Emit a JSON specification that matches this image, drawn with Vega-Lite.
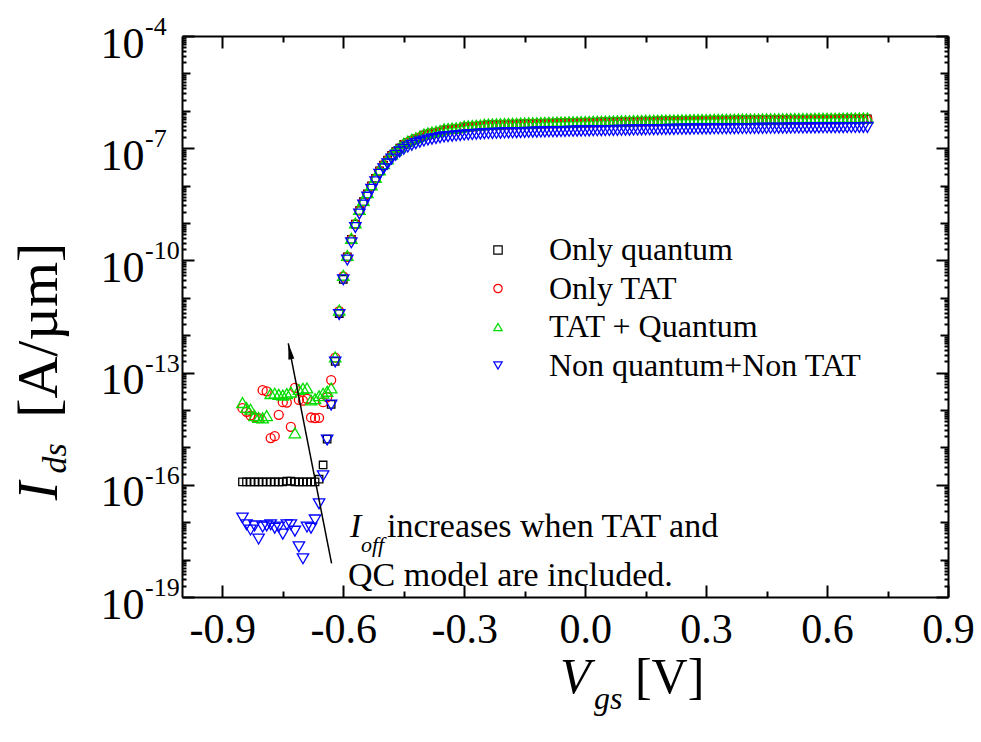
{
  "$schema": "https://vega.github.io/schema/vega-lite/v6.json",
  "width": 766,
  "height": 561,
  "autosize": {"type": "none"},
  "padding": {"left": 182, "top": 36, "right": 33, "bottom": 145},
  "background": "white",
  "config": {
    "view": {"stroke": null},
    "font": "Liberation Serif",
    "axis": {"domainColor": "#000", "domainWidth": 2, "tickColor": "#000", "tickWidth": 2, "grid": false, "labelFont": "Liberation Serif", "labelColor": "#000", "labelOverlap": false, "labelBound": false, "labelFlush": false},
    "legend": {"labelFont": "Liberation Serif", "labelFontSize": 32, "labelColor": "#000", "symbolSize": 70, "symbolStrokeWidth": 1.2, "rowPadding": 6.5, "labelOffset": 35, "padding": 0, "labelLimit": 600}
  },
  "data": {"values": [
    {"v": -0.85, "q": 1.2e-16, "t": 1.12e-14, "tq": 1.58e-14, "n": 1.29e-17},
    {"v": -0.84, "q": 1.2e-16, "t": 8.91e-15, "tq": 1.17e-14, "n": 8.51e-18},
    {"v": -0.83, "q": 1.2e-16, "t": 7.08e-15, "tq": 1.05e-14, "n": 6.17e-18},
    {"v": -0.82, "q": 1.2e-16, "t": 6.46e-15, "tq": 7.08e-15, "n": 7.94e-18},
    {"v": -0.81, "q": 1.2e-16, "t": 6.03e-15, "tq": 6.31e-15, "n": 3.55e-18},
    {"v": -0.80, "q": 1.2e-16, "t": 3.39e-14, "tq": 6.17e-15, "n": 7.41e-18},
    {"v": -0.79, "q": 1.2e-16, "t": 3.16e-14, "tq": 7.08e-15, "n": 7.94e-18},
    {"v": -0.78, "q": 1.2e-16, "t": 1.78e-15, "tq": 2.75e-14, "n": 8.51e-18},
    {"v": -0.77, "q": 1.2e-16, "t": 2.00e-15, "tq": 2.82e-14, "n": 6.92e-18},
    {"v": -0.76, "q": 1.2e-16, "t": 7.41e-15, "tq": 2.63e-14, "n": 7.41e-18},
    {"v": -0.75, "q": 1.2e-16, "t": 1.62e-14, "tq": 2.51e-14, "n": 4.79e-18},
    {"v": -0.74, "q": 1.25e-16, "t": 1.58e-14, "tq": 2.75e-14, "n": 8.51e-18},
    {"v": -0.73, "q": 1.25e-16, "t": 3.55e-15, "tq": 3.02e-14, "n": 8.51e-18},
    {"v": -0.72, "q": 1.2e-16, "t": 3.89e-14, "tq": 2.45e-15, "n": 5.75e-18},
    {"v": -0.71, "q": 1.2e-16, "t": 1.86e-14, "tq": 3.55e-14, "n": 2.19e-18},
    {"v": -0.70, "q": 1.2e-16, "t": 1.78e-14, "tq": 3.80e-14, "n": 1.05e-18},
    {"v": -0.69, "q": 1.2e-16, "t": 2.00e-14, "tq": 3.89e-14, "n": 7.41e-18},
    {"v": -0.68, "q": 1.2e-16, "t": 6.31e-15, "tq": 1.86e-14, "n": 6.92e-18},
    {"v": -0.67, "q": 1.2e-16, "t": 6.03e-15, "tq": 2.00e-14, "n": 1.15e-17},
    {"v": -0.66, "q": 1.41e-16, "t": 6.17e-15, "tq": 2.40e-14, "n": 3.09e-17},
    {"v": -0.65, "q": 3.39e-16, "t": 1.62e-14, "tq": 2.82e-14, "n": 1.74e-16},
    {"v": -0.64, "q": 1.66e-15, "t": 2.20e-14, "tq": 3.16e-14, "n": 1.58e-15},
    {"v": -0.63, "q": 1.41e-14, "t": 6.31e-14, "tq": 3.89e-14, "n": 1.35e-14},
    {"v": -0.62, "q": 2.00e-13, "t": 2.51e-13, "tq": 2.63e-13, "n": 1.91e-13},
    {"v": -0.61, "q": 3.8e-12, "t": 4.37e-12, "tq": 4.69e-12, "n": 3.55e-12},
    {"v": -0.60, "q": 3.1e-11, "t": 3.71e-11, "tq": 3.99e-11, "n": 3.02e-11},
    {"v": -0.59, "q": 1.25e-10, "t": 1.25e-10, "tq": 1.35e-10, "n": 1.02e-10},
    {"v": -0.58, "q": 3.63e-10, "t": 3.63e-10, "tq": 3.89e-10, "n": 2.95e-10},
    {"v": -0.57, "q": 9.34e-10, "t": 9.34e-10, "tq": 1.00e-9, "n": 7.59e-10},
    {"v": -0.56, "q": 2.14e-9, "t": 2.14e-9, "tq": 2.30e-9, "n": 1.74e-9},
    {"v": -0.55, "q": 3.71e-9, "t": 3.71e-9, "tq": 3.99e-9, "n": 3.02e-9},
    {"v": -0.54, "q": 6.03e-9, "t": 6.03e-9, "tq": 6.47e-9, "n": 4.90e-9},
    {"v": -0.53, "q": 9.77e-9, "t": 9.77e-9, "tq": 1.05e-8, "n": 7.94e-9},
    {"v": -0.52, "q": 1.55e-8, "t": 1.55e-8, "tq": 1.66e-8, "n": 1.26e-8},
    {"v": -0.51, "q": 2.46e-8, "t": 2.46e-8, "tq": 2.64e-8, "n": 2.00e-8},
    {"v": -0.50, "q": 3.55e-8, "t": 3.55e-8, "tq": 3.84e-8, "n": 2.82e-8},
    {"v": -0.49, "q": 4.79e-8, "t": 4.79e-8, "tq": 5.17e-8, "n": 3.80e-8},
    {"v": -0.48, "q": 6.46e-8, "t": 6.46e-8, "tq": 6.98e-8, "n": 5.13e-8},
    {"v": -0.47, "q": 8.14e-8, "t": 8.14e-8, "tq": 8.79e-8, "n": 6.46e-8},
    {"v": -0.46, "q": 1.00e-7, "t": 1.00e-7, "tq": 1.08e-7, "n": 7.94e-8},
    {"v": -0.45, "q": 1.26e-7, "t": 1.26e-7, "tq": 1.35e-7, "n": 9.33e-8},
    {"v": -0.44, "q": 1.44e-7, "t": 1.44e-7, "tq": 1.55e-7, "n": 1.07e-7},
    {"v": -0.43, "q": 1.62e-7, "t": 1.62e-7, "tq": 1.74e-7, "n": 1.20e-7},
    {"v": -0.42, "q": 1.78e-7, "t": 1.78e-7, "tq": 1.91e-7, "n": 1.32e-7},
    {"v": -0.41, "q": 1.96e-7, "t": 1.96e-7, "tq": 2.10e-7, "n": 1.45e-7},
    {"v": -0.40, "q": 2.23e-7, "t": 2.23e-7, "tq": 2.40e-7, "n": 1.55e-7},
    {"v": -0.39, "q": 2.39e-7, "t": 2.39e-7, "tq": 2.57e-7, "n": 1.66e-7},
    {"v": -0.38, "q": 2.51e-7, "t": 2.51e-7, "tq": 2.70e-7, "n": 1.74e-7},
    {"v": -0.37, "q": 2.62e-7, "t": 2.62e-7, "tq": 2.82e-7, "n": 1.82e-7},
    {"v": -0.36, "q": 2.75e-7, "t": 2.75e-7, "tq": 2.96e-7, "n": 1.91e-7},
    {"v": -0.35, "q": 3.06e-7, "t": 3.06e-7, "tq": 3.30e-7, "n": 2.00e-7},
    {"v": -0.34, "q": 3.12e-7, "t": 3.12e-7, "tq": 3.37e-7, "n": 2.04e-7},
    {"v": -0.33, "q": 3.20e-7, "t": 3.20e-7, "tq": 3.45e-7, "n": 2.09e-7},
    {"v": -0.32, "q": 3.27e-7, "t": 3.27e-7, "tq": 3.53e-7, "n": 2.14e-7},
    {"v": -0.31, "q": 3.35e-7, "t": 3.35e-7, "tq": 3.61e-7, "n": 2.19e-7},
    {"v": -0.30, "q": 3.63e-7, "t": 3.63e-7, "tq": 3.90e-7, "n": 2.24e-7},
    {"v": -0.29, "q": 3.71e-7, "t": 3.71e-7, "tq": 3.98e-7, "n": 2.29e-7},
    {"v": -0.28, "q": 3.76e-7, "t": 3.76e-7, "tq": 4.04e-7, "n": 2.32e-7},
    {"v": -0.27, "q": 3.82e-7, "t": 3.82e-7, "tq": 4.11e-7, "n": 2.36e-7},
    {"v": -0.26, "q": 3.89e-7, "t": 3.89e-7, "tq": 4.18e-7, "n": 2.40e-7},
    {"v": -0.25, "q": 4.10e-7, "t": 4.10e-7, "tq": 4.39e-7, "n": 2.44e-7},
    {"v": -0.24, "q": 4.13e-7, "t": 4.13e-7, "tq": 4.43e-7, "n": 2.46e-7},
    {"v": -0.23, "q": 4.17e-7, "t": 4.17e-7, "tq": 4.46e-7, "n": 2.48e-7},
    {"v": -0.22, "q": 4.20e-7, "t": 4.20e-7, "tq": 4.50e-7, "n": 2.50e-7},
    {"v": -0.21, "q": 4.23e-7, "t": 4.23e-7, "tq": 4.54e-7, "n": 2.52e-7},
    {"v": -0.20, "q": 4.27e-7, "t": 4.27e-7, "tq": 4.57e-7, "n": 2.54e-7},
    {"v": -0.19, "q": 4.30e-7, "t": 4.30e-7, "tq": 4.61e-7, "n": 2.56e-7},
    {"v": -0.18, "q": 4.33e-7, "t": 4.33e-7, "tq": 4.64e-7, "n": 2.58e-7},
    {"v": -0.17, "q": 4.35e-7, "t": 4.35e-7, "tq": 4.66e-7, "n": 2.59e-7},
    {"v": -0.16, "q": 4.38e-7, "t": 4.38e-7, "tq": 4.70e-7, "n": 2.61e-7},
    {"v": -0.15, "q": 4.42e-7, "t": 4.42e-7, "tq": 4.73e-7, "n": 2.63e-7},
    {"v": -0.14, "q": 4.45e-7, "t": 4.45e-7, "tq": 4.77e-7, "n": 2.65e-7},
    {"v": -0.13, "q": 4.49e-7, "t": 4.49e-7, "tq": 4.81e-7, "n": 2.67e-7},
    {"v": -0.12, "q": 4.50e-7, "t": 4.50e-7, "tq": 4.82e-7, "n": 2.68e-7},
    {"v": -0.11, "q": 4.54e-7, "t": 4.54e-7, "tq": 4.86e-7, "n": 2.70e-7},
    {"v": -0.10, "q": 4.57e-7, "t": 4.57e-7, "tq": 4.90e-7, "n": 2.72e-7},
    {"v": -0.09, "q": 4.60e-7, "t": 4.60e-7, "tq": 4.93e-7, "n": 2.74e-7},
    {"v": -0.08, "q": 4.62e-7, "t": 4.62e-7, "tq": 4.95e-7, "n": 2.75e-7},
    {"v": -0.07, "q": 4.65e-7, "t": 4.65e-7, "tq": 4.99e-7, "n": 2.77e-7},
    {"v": -0.06, "q": 4.67e-7, "t": 4.67e-7, "tq": 5.00e-7, "n": 2.78e-7},
    {"v": -0.05, "q": 4.70e-7, "t": 4.70e-7, "tq": 5.04e-7, "n": 2.80e-7},
    {"v": -0.04, "q": 4.74e-7, "t": 4.74e-7, "tq": 5.08e-7, "n": 2.82e-7},
    {"v": -0.03, "q": 4.75e-7, "t": 4.75e-7, "tq": 5.09e-7, "n": 2.83e-7},
    {"v": -0.02, "q": 4.79e-7, "t": 4.79e-7, "tq": 5.13e-7, "n": 2.85e-7},
    {"v": -0.01, "q": 4.80e-7, "t": 4.80e-7, "tq": 5.15e-7, "n": 2.86e-7},
    {"v": 0.00, "q": 4.84e-7, "t": 4.84e-7, "tq": 5.18e-7, "n": 2.88e-7},
    {"v": 0.01, "q": 4.86e-7, "t": 4.86e-7, "tq": 5.20e-7, "n": 2.89e-7},
    {"v": 0.02, "q": 4.89e-7, "t": 4.89e-7, "tq": 5.24e-7, "n": 2.91e-7},
    {"v": 0.03, "q": 4.91e-7, "t": 4.91e-7, "tq": 5.26e-7, "n": 2.92e-7},
    {"v": 0.04, "q": 4.94e-7, "t": 4.94e-7, "tq": 5.29e-7, "n": 2.94e-7},
    {"v": 0.05, "q": 4.96e-7, "t": 4.96e-7, "tq": 5.31e-7, "n": 2.95e-7},
    {"v": 0.06, "q": 4.97e-7, "t": 4.97e-7, "tq": 5.33e-7, "n": 2.96e-7},
    {"v": 0.07, "q": 5.01e-7, "t": 5.01e-7, "tq": 5.36e-7, "n": 2.98e-7},
    {"v": 0.08, "q": 5.02e-7, "t": 5.02e-7, "tq": 5.38e-7, "n": 2.99e-7},
    {"v": 0.09, "q": 5.06e-7, "t": 5.06e-7, "tq": 5.42e-7, "n": 3.01e-7},
    {"v": 0.10, "q": 5.07e-7, "t": 5.07e-7, "tq": 5.44e-7, "n": 3.02e-7},
    {"v": 0.11, "q": 5.09e-7, "t": 5.09e-7, "tq": 5.45e-7, "n": 3.03e-7},
    {"v": 0.12, "q": 5.12e-7, "t": 5.12e-7, "tq": 5.49e-7, "n": 3.05e-7},
    {"v": 0.13, "q": 5.14e-7, "t": 5.14e-7, "tq": 5.51e-7, "n": 3.06e-7},
    {"v": 0.14, "q": 5.17e-7, "t": 5.17e-7, "tq": 5.54e-7, "n": 3.08e-7},
    {"v": 0.15, "q": 5.19e-7, "t": 5.19e-7, "tq": 5.56e-7, "n": 3.09e-7},
    {"v": 0.16, "q": 5.21e-7, "t": 5.21e-7, "tq": 5.58e-7, "n": 3.10e-7},
    {"v": 0.17, "q": 5.24e-7, "t": 5.24e-7, "tq": 5.62e-7, "n": 3.12e-7},
    {"v": 0.18, "q": 5.26e-7, "t": 5.26e-7, "tq": 5.63e-7, "n": 3.13e-7},
    {"v": 0.19, "q": 5.29e-7, "t": 5.29e-7, "tq": 5.67e-7, "n": 3.15e-7},
    {"v": 0.20, "q": 5.31e-7, "t": 5.31e-7, "tq": 5.69e-7, "n": 3.16e-7},
    {"v": 0.21, "q": 5.33e-7, "t": 5.33e-7, "tq": 5.71e-7, "n": 3.17e-7},
    {"v": 0.22, "q": 5.34e-7, "t": 5.34e-7, "tq": 5.72e-7, "n": 3.18e-7},
    {"v": 0.23, "q": 5.36e-7, "t": 5.36e-7, "tq": 5.74e-7, "n": 3.19e-7},
    {"v": 0.24, "q": 5.38e-7, "t": 5.38e-7, "tq": 5.76e-7, "n": 3.20e-7},
    {"v": 0.25, "q": 5.41e-7, "t": 5.41e-7, "tq": 5.80e-7, "n": 3.22e-7},
    {"v": 0.26, "q": 5.43e-7, "t": 5.43e-7, "tq": 5.81e-7, "n": 3.23e-7},
    {"v": 0.27, "q": 5.44e-7, "t": 5.44e-7, "tq": 5.83e-7, "n": 3.24e-7},
    {"v": 0.28, "q": 5.46e-7, "t": 5.46e-7, "tq": 5.85e-7, "n": 3.25e-7},
    {"v": 0.29, "q": 5.48e-7, "t": 5.48e-7, "tq": 5.87e-7, "n": 3.26e-7},
    {"v": 0.30, "q": 5.49e-7, "t": 5.49e-7, "tq": 5.89e-7, "n": 3.27e-7},
    {"v": 0.31, "q": 5.51e-7, "t": 5.51e-7, "tq": 5.90e-7, "n": 3.28e-7},
    {"v": 0.32, "q": 5.53e-7, "t": 5.53e-7, "tq": 5.92e-7, "n": 3.29e-7},
    {"v": 0.33, "q": 5.54e-7, "t": 5.54e-7, "tq": 5.93e-7, "n": 3.295e-7},
    {"v": 0.34, "q": 5.54e-7, "t": 5.54e-7, "tq": 5.94e-7, "n": 3.30e-7},
    {"v": 0.35, "q": 5.56e-7, "t": 5.56e-7, "tq": 5.96e-7, "n": 3.31e-7},
    {"v": 0.36, "q": 5.58e-7, "t": 5.58e-7, "tq": 5.98e-7, "n": 3.32e-7},
    {"v": 0.37, "q": 5.59e-7, "t": 5.59e-7, "tq": 5.99e-7, "n": 3.33e-7},
    {"v": 0.38, "q": 5.60e-7, "t": 5.60e-7, "tq": 6.00e-7, "n": 3.335e-7},
    {"v": 0.39, "q": 5.61e-7, "t": 5.61e-7, "tq": 6.01e-7, "n": 3.34e-7},
    {"v": 0.40, "q": 5.63e-7, "t": 5.63e-7, "tq": 6.03e-7, "n": 3.35e-7},
    {"v": 0.41, "q": 5.64e-7, "t": 5.64e-7, "tq": 6.05e-7, "n": 3.36e-7},
    {"v": 0.42, "q": 5.66e-7, "t": 5.66e-7, "tq": 6.07e-7, "n": 3.37e-7},
    {"v": 0.43, "q": 5.67e-7, "t": 5.67e-7, "tq": 6.07e-7, "n": 3.375e-7},
    {"v": 0.44, "q": 5.68e-7, "t": 5.68e-7, "tq": 6.08e-7, "n": 3.38e-7},
    {"v": 0.45, "q": 5.70e-7, "t": 5.70e-7, "tq": 6.10e-7, "n": 3.39e-7},
    {"v": 0.46, "q": 5.71e-7, "t": 5.71e-7, "tq": 6.12e-7, "n": 3.40e-7},
    {"v": 0.47, "q": 5.73e-7, "t": 5.73e-7, "tq": 6.14e-7, "n": 3.41e-7},
    {"v": 0.48, "q": 5.74e-7, "t": 5.74e-7, "tq": 6.15e-7, "n": 3.415e-7},
    {"v": 0.49, "q": 5.75e-7, "t": 5.75e-7, "tq": 6.16e-7, "n": 3.42e-7},
    {"v": 0.50, "q": 5.76e-7, "t": 5.76e-7, "tq": 6.17e-7, "n": 3.43e-7},
    {"v": 0.51, "q": 5.78e-7, "t": 5.78e-7, "tq": 6.19e-7, "n": 3.44e-7},
    {"v": 0.52, "q": 5.80e-7, "t": 5.80e-7, "tq": 6.21e-7, "n": 3.45e-7},
    {"v": 0.53, "q": 5.80e-7, "t": 5.80e-7, "tq": 6.22e-7, "n": 3.455e-7},
    {"v": 0.54, "q": 5.81e-7, "t": 5.81e-7, "tq": 6.23e-7, "n": 3.46e-7},
    {"v": 0.55, "q": 5.83e-7, "t": 5.83e-7, "tq": 6.25e-7, "n": 3.47e-7},
    {"v": 0.56, "q": 5.85e-7, "t": 5.85e-7, "tq": 6.26e-7, "n": 3.48e-7},
    {"v": 0.57, "q": 5.86e-7, "t": 5.86e-7, "tq": 6.28e-7, "n": 3.49e-7},
    {"v": 0.58, "q": 5.87e-7, "t": 5.87e-7, "tq": 6.29e-7, "n": 3.495e-7},
    {"v": 0.59, "q": 5.88e-7, "t": 5.88e-7, "tq": 6.30e-7, "n": 3.50e-7},
    {"v": 0.60, "q": 5.90e-7, "t": 5.90e-7, "tq": 6.32e-7, "n": 3.51e-7},
    {"v": 0.61, "q": 5.91e-7, "t": 5.91e-7, "tq": 6.34e-7, "n": 3.52e-7},
    {"v": 0.62, "q": 5.93e-7, "t": 5.93e-7, "tq": 6.35e-7, "n": 3.53e-7},
    {"v": 0.63, "q": 5.94e-7, "t": 5.94e-7, "tq": 6.36e-7, "n": 3.535e-7},
    {"v": 0.64, "q": 5.95e-7, "t": 5.95e-7, "tq": 6.37e-7, "n": 3.54e-7},
    {"v": 0.65, "q": 5.96e-7, "t": 5.96e-7, "tq": 6.39e-7, "n": 3.55e-7},
    {"v": 0.66, "q": 5.98e-7, "t": 5.98e-7, "tq": 6.41e-7, "n": 3.56e-7},
    {"v": 0.67, "q": 6.00e-7, "t": 6.00e-7, "tq": 6.43e-7, "n": 3.57e-7},
    {"v": 0.68, "q": 6.00e-7, "t": 6.00e-7, "tq": 6.43e-7, "n": 3.575e-7},
    {"v": 0.69, "q": 6.01e-7, "t": 6.01e-7, "tq": 6.44e-7, "n": 3.58e-7},
    {"v": 0.70, "q": 6.03e-7, "t": 6.03e-7, "tq": 6.46e-7, "n": 3.59e-7}
  ]},
  "layer": [
    {
      "mark": {"type": "point", "filled": false, "strokeWidth": 1.3, "size": 56, "opacity": 1},
      "encoding": {
        "x": {
          "field": "v", "type": "quantitative",
          "scale": {"domain": [-1, 0.9], "nice": false, "zero": false},
          "axis": {
            "orient": "bottom", "title": null,
            "values": [-0.9, -0.75, -0.6, -0.45, -0.3, -0.15, 0, 0.15, 0.3, 0.45, 0.6, 0.75, 0.9],
            "labelExpr": "round(datum.value * 20) % 6 == 0 ? replace(format(datum.value, '.1f'), '\u2212', '-') : ''",
            "tickSize": {"condition": {"test": "round(datum.value * 20) % 6 == 0", "value": -12}, "value": -6},
            "labelPadding": 24, "labelFontSize": 42
          }
        },
        "y": {
          "field": "q", "type": "quantitative",
          "scale": {"type": "log", "domain": [1e-19, 1e-4], "nice": false},
          "axis": {
            "orient": "left", "title": null,
            "values": [1e-19, 2e-19, 3e-19, 4e-19, 5e-19, 6e-19, 7e-19, 8e-19, 9e-19,
                       1e-18, 2e-18, 3e-18, 4e-18, 5e-18, 6e-18, 7e-18, 8e-18, 9e-18,
                       1e-17, 2e-17, 3e-17, 4e-17, 5e-17, 6e-17, 7e-17, 8e-17, 9e-17,
                       1e-16, 2e-16, 3e-16, 4e-16, 5e-16, 6e-16, 7e-16, 8e-16, 9e-16,
                       1e-15, 2e-15, 3e-15, 4e-15, 5e-15, 6e-15, 7e-15, 8e-15, 9e-15,
                       1e-14, 2e-14, 3e-14, 4e-14, 5e-14, 6e-14, 7e-14, 8e-14, 9e-14,
                       1e-13, 2e-13, 3e-13, 4e-13, 5e-13, 6e-13, 7e-13, 8e-13, 9e-13,
                       1e-12, 2e-12, 3e-12, 4e-12, 5e-12, 6e-12, 7e-12, 8e-12, 9e-12,
                       1e-11, 2e-11, 3e-11, 4e-11, 5e-11, 6e-11, 7e-11, 8e-11, 9e-11,
                       1e-10, 2e-10, 3e-10, 4e-10, 5e-10, 6e-10, 7e-10, 8e-10, 9e-10,
                       1e-9, 2e-9, 3e-9, 4e-9, 5e-9, 6e-9, 7e-9, 8e-9, 9e-9,
                       1e-8, 2e-8, 3e-8, 4e-8, 5e-8, 6e-8, 7e-8, 8e-8, 9e-8,
                       1e-7, 2e-7, 3e-7, 4e-7, 5e-7, 6e-7, 7e-7, 8e-7, 9e-7,
                       1e-6, 2e-6, 3e-6, 4e-6, 5e-6, 6e-6, 7e-6, 8e-6, 9e-6,
                       1e-5, 2e-5, 3e-5, 4e-5, 5e-5, 6e-5, 7e-5, 8e-5, 9e-5, 1e-4],
            "labelExpr": "abs(datum.value / pow(10, round(log(datum.value) / LN10)) - 1) < 0.01 && (round(log(datum.value) / LN10) + 4) % 3 == 0 ? '10' : ''",
            "tickSize": {"condition": [
              {"test": "abs(datum.value / pow(10, round(log(datum.value) / LN10)) - 1) < 0.01 && (round(log(datum.value) / LN10) + 4) % 3 == 0", "value": -12},
              {"test": "abs(datum.value / pow(10, round(log(datum.value) / LN10)) - 1) < 0.01", "value": -8}
            ], "value": -4},
            "labelAlign": "left", "labelBaseline": "middle",
            "labelPadding": 94, "labelFontSize": 44, "labelOffset": 8
          }
        },
        "color": {
          "datum": "Only quantum", "type": "nominal",
          "scale": {"domain": ["Only quantum", "Only TAT", "TAT + Quantum", "Non quantum+Non TAT"], "range": ["#000000", "#ff0000", "#00dd00", "#0000ff"]},
          "legend": {"title": null, "orient": "none", "legendX": 300, "legendY": 198, "labelFont": "Liberation Serif", "labelFontSize": 32}
        },
        "shape": {
          "datum": "Only quantum", "type": "nominal",
          "scale": {"domain": ["Only quantum", "Only TAT", "TAT + Quantum", "Non quantum+Non TAT"], "range": ["square", "circle", "triangle-up", "triangle-down"]},
          "legend": {"title": null, "orient": "none", "legendX": 300, "legendY": 198, "labelFont": "Liberation Serif", "labelFontSize": 32}
        }
      }
    },
    {
      "mark": {"type": "point", "filled": false, "strokeWidth": 1.3, "size": 81, "opacity": 1},
      "encoding": {
        "x": {"field": "v", "type": "quantitative", "axis": null},
        "y": {"field": "t", "type": "quantitative", "axis": null},
        "color": {"datum": "Only TAT", "type": "nominal"},
        "shape": {"datum": "Only TAT", "type": "nominal"}
      }
    },
    {
      "mark": {"type": "point", "filled": false, "strokeWidth": 1.3, "size": 130, "opacity": 1},
      "encoding": {
        "x": {"field": "v", "type": "quantitative", "axis": null},
        "y": {"field": "tq", "type": "quantitative", "axis": null},
        "color": {"datum": "TAT + Quantum", "type": "nominal"},
        "shape": {"datum": "TAT + Quantum", "type": "nominal"}
      }
    },
    {
      "mark": {"type": "point", "filled": false, "strokeWidth": 1.3, "size": 130, "opacity": 1},
      "encoding": {
        "x": {"field": "v", "type": "quantitative", "axis": null},
        "y": {"field": "n", "type": "quantitative", "axis": null},
        "color": {"datum": "Non quantum+Non TAT", "type": "nominal"},
        "shape": {"datum": "Non quantum+Non TAT", "type": "nominal"}
      }
    },
    {
      "data": {"values": [{"va": -0.629, "ia": 7.94e-19, "vb": -0.7364, "ib": 6.03e-13}]},
      "mark": {"type": "rule", "color": "#000", "strokeWidth": 1.5},
      "encoding": {
        "x": {
          "field": "va", "type": "quantitative",
          "axis": {
            "orient": "top", "title": null, "labels": false,
            "values": [-0.9, -0.75, -0.6, -0.45, -0.3, -0.15, 0, 0.15, 0.3, 0.45, 0.6, 0.75, 0.9],
            "tickSize": {"condition": {"test": "round(datum.value * 20) % 6 == 0", "value": -12}, "value": -6}
          }
        },
        "y": {
          "field": "ia", "type": "quantitative",
          "axis": {
            "orient": "right", "title": null, "labels": false,
            "values": [1e-19, 2e-19, 3e-19, 4e-19, 5e-19, 6e-19, 7e-19, 8e-19, 9e-19,
                       1e-18, 2e-18, 3e-18, 4e-18, 5e-18, 6e-18, 7e-18, 8e-18, 9e-18,
                       1e-17, 2e-17, 3e-17, 4e-17, 5e-17, 6e-17, 7e-17, 8e-17, 9e-17,
                       1e-16, 2e-16, 3e-16, 4e-16, 5e-16, 6e-16, 7e-16, 8e-16, 9e-16,
                       1e-15, 2e-15, 3e-15, 4e-15, 5e-15, 6e-15, 7e-15, 8e-15, 9e-15,
                       1e-14, 2e-14, 3e-14, 4e-14, 5e-14, 6e-14, 7e-14, 8e-14, 9e-14,
                       1e-13, 2e-13, 3e-13, 4e-13, 5e-13, 6e-13, 7e-13, 8e-13, 9e-13,
                       1e-12, 2e-12, 3e-12, 4e-12, 5e-12, 6e-12, 7e-12, 8e-12, 9e-12,
                       1e-11, 2e-11, 3e-11, 4e-11, 5e-11, 6e-11, 7e-11, 8e-11, 9e-11,
                       1e-10, 2e-10, 3e-10, 4e-10, 5e-10, 6e-10, 7e-10, 8e-10, 9e-10,
                       1e-9, 2e-9, 3e-9, 4e-9, 5e-9, 6e-9, 7e-9, 8e-9, 9e-9,
                       1e-8, 2e-8, 3e-8, 4e-8, 5e-8, 6e-8, 7e-8, 8e-8, 9e-8,
                       1e-7, 2e-7, 3e-7, 4e-7, 5e-7, 6e-7, 7e-7, 8e-7, 9e-7,
                       1e-6, 2e-6, 3e-6, 4e-6, 5e-6, 6e-6, 7e-6, 8e-6, 9e-6,
                       1e-5, 2e-5, 3e-5, 4e-5, 5e-5, 6e-5, 7e-5, 8e-5, 9e-5, 1e-4],
            "tickSize": {"condition": [
              {"test": "abs(datum.value / pow(10, round(log(datum.value) / LN10)) - 1) < 0.01 && (round(log(datum.value) / LN10) + 4) % 3 == 0", "value": -12},
              {"test": "abs(datum.value / pow(10, round(log(datum.value) / LN10)) - 1) < 0.01", "value": -8}
            ], "value": -4}
          }
        },
        "x2": {"field": "vb"},
        "y2": {"field": "ib"}
      }
    },
    {
      "data": {"values": [{"v": -0.7316, "i": 3.31e-13}]},
      "mark": {"type": "point", "shape": "M0,-1L0.3,0.6L-0.3,0.6Z", "filled": true, "color": "#000", "size": 400, "angle": 348.8, "opacity": 1},
      "encoding": {
        "x": {"field": "v", "type": "quantitative", "axis": null},
        "y": {"field": "i", "type": "quantitative", "axis": null}
      }
    },
    {
      "data": {"values": [
        {"exp": "-4", "i": 1e-4},
        {"exp": "-7", "i": 1e-7},
        {"exp": "-10", "i": 1e-10},
        {"exp": "-13", "i": 1e-13},
        {"exp": "-16", "i": 1e-16},
        {"exp": "-19", "i": 1e-19}
      ]},
      "mark": {"type": "text", "align": "left", "baseline": "alphabetic", "font": "Liberation Serif", "fontSize": 26, "color": "#000", "dy": -1},
      "encoding": {
        "x": {"datum": -1.0918, "type": "quantitative", "axis": null},
        "y": {"field": "i", "type": "quantitative", "axis": null},
        "text": {"field": "exp"}
      }
    },
    {
      "data": {"values": [
        {"label": "increases when TAT and", "v": -0.4916, "i": 3.98e-18},
        {"label": "QC model are included.", "v": -0.5883, "i": 1.95e-19}
      ]},
      "mark": {"type": "text", "align": "left", "baseline": "alphabetic", "font": "Liberation Serif", "fontSize": 34, "color": "#000"},
      "encoding": {
        "x": {"field": "v", "type": "quantitative", "axis": null},
        "y": {"field": "i", "type": "quantitative", "axis": null},
        "text": {"field": "label"}
      }
    },
    {
      "data": {"values": [{"label": "I", "v": -0.5833, "i": 3.98e-18}]},
      "mark": {"type": "text", "align": "left", "baseline": "alphabetic", "font": "Liberation Serif", "fontStyle": "italic", "fontSize": 34, "color": "#000"},
      "encoding": {
        "x": {"field": "v", "type": "quantitative", "axis": null},
        "y": {"field": "i", "type": "quantitative", "axis": null},
        "text": {"field": "label"}
      }
    },
    {
      "data": {"values": [{"label": "off", "v": -0.556, "i": 1.58e-18}]},
      "mark": {"type": "text", "align": "left", "baseline": "alphabetic", "font": "Liberation Serif", "fontStyle": "italic", "fontSize": 22, "color": "#000"},
      "encoding": {
        "x": {"field": "v", "type": "quantitative", "axis": null},
        "y": {"field": "i", "type": "quantitative", "axis": null},
        "text": {"field": "label"}
      }
    },
    {
      "data": {"values": [{"label": "V", "v": -0.0625, "i": 2.71e-22}]},
      "mark": {"type": "text", "align": "left", "baseline": "alphabetic", "font": "Liberation Serif", "fontStyle": "italic", "fontSize": 50, "color": "#000"},
      "encoding": {
        "x": {"field": "v", "type": "quantitative", "axis": null},
        "y": {"field": "i", "type": "quantitative", "axis": null},
        "text": {"field": "label"}
      }
    },
    {
      "data": {"values": [{"label": "gs", "v": 0.022, "i": 1.0e-22}]},
      "mark": {"type": "text", "align": "left", "baseline": "alphabetic", "font": "Liberation Serif", "fontStyle": "italic", "fontSize": 32, "color": "#000"},
      "encoding": {
        "x": {"field": "v", "type": "quantitative", "axis": null},
        "y": {"field": "i", "type": "quantitative", "axis": null},
        "text": {"field": "label"}
      }
    },
    {
      "data": {"values": [{"label": "[V]", "v": 0.1235, "i": 2.71e-22}]},
      "mark": {"type": "text", "align": "left", "baseline": "alphabetic", "font": "Liberation Serif", "fontSize": 50, "color": "#000"},
      "encoding": {
        "x": {"field": "v", "type": "quantitative", "axis": null},
        "y": {"field": "i", "type": "quantitative", "axis": null},
        "text": {"field": "label"}
      }
    },
    {
      "data": {"values": [{"label": "I", "v": -1.31, "i": 3.89e-17}]},
      "mark": {"type": "text", "align": "left", "baseline": "alphabetic", "angle": 270, "font": "Liberation Serif", "fontStyle": "italic", "fontSize": 56, "color": "#000"},
      "encoding": {
        "x": {"field": "v", "type": "quantitative", "axis": null},
        "y": {"field": "i", "type": "quantitative", "axis": null},
        "text": {"field": "label"}
      }
    },
    {
      "data": {"values": [{"label": "ds", "v": -1.2877, "i": 2.0e-16}]},
      "mark": {"type": "text", "align": "left", "baseline": "alphabetic", "angle": 270, "font": "Liberation Serif", "fontStyle": "italic", "fontSize": 34, "color": "#000"},
      "encoding": {
        "x": {"field": "v", "type": "quantitative", "axis": null},
        "y": {"field": "i", "type": "quantitative", "axis": null},
        "text": {"field": "label"}
      }
    },
    {
      "data": {"values": [{"label": "[A/µm]", "v": -1.31, "i": 6.17e-15}]},
      "mark": {"type": "text", "align": "left", "baseline": "alphabetic", "angle": 270, "font": "Liberation Serif", "fontSize": 58, "color": "#000"},
      "encoding": {
        "x": {"field": "v", "type": "quantitative", "axis": null},
        "y": {"field": "i", "type": "quantitative", "axis": null},
        "text": {"field": "label"}
      }
    }
  ],
  "resolve": {"axis": {"x": "independent", "y": "independent"}}
}
